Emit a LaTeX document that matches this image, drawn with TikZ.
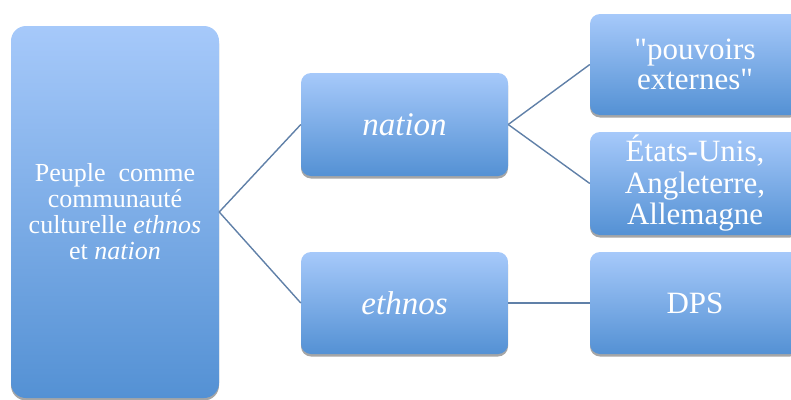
\documentclass[tikz,border=0pt]{standalone}
\usepackage{fontspec}
\setmainfont{Liberation Serif}[Ligatures=TeXOff]
\usetikzlibrary{shadows}
\definecolor{boxtop}{RGB}{166,201,250}
\definecolor{boxbot}{RGB}{84,145,212}
\definecolor{linkc}{RGB}{96,128,168}
\begin{document}
\begin{tikzpicture}[x=1pt,y=-1pt,
  boxstyle/.style={draw=none, rounded corners=10pt, top color=boxtop, bottom color=boxbot,
    drop shadow={shadow xshift=0pt, shadow yshift=-2.5pt, fill=black, opacity=0.35},
    text=white, align=center, inner sep=0pt},
  link/.style={draw=linkc, line width=1.4pt}]
\useasboundingbox (0,0) rectangle (791,399);
\begin{scope}
\clip (0,0) rectangle (791,399);
\node[boxstyle, rounded corners=15pt, minimum width=208pt, minimum height=372pt, font=\fontsize{26}{26}\selectfont] (root) at (115,212)
  {Peuple\ \ comme\\ communauté\\ culturelle \textit{ethnos}\\ et \textit{nation}};
\node[boxstyle, minimum width=207pt, minimum height=103pt, font=\fontsize{33}{34}\selectfont] (nation) at (404.5,124.5) {\textit{nation}};
\node[boxstyle, minimum width=207pt, minimum height=102pt, font=\fontsize{33}{34}\selectfont] (ethnos) at (404.5,303) {\textit{ethnos}};
\node[boxstyle, minimum width=210pt, minimum height=101pt, font=\fontsize{31}{30.5}\selectfont] (pouv) at (695,64.5) {"pouvoirs\\ externes"};
\node[boxstyle, minimum width=210pt, minimum height=103pt, font=\fontsize{31}{31.5}\selectfont] (etats) at (695,183.5) {États-Unis,\\ Angleterre,\\ Allemagne};
\node[boxstyle, minimum width=210pt, minimum height=102pt, font=\fontsize{31}{34}\selectfont] (dps) at (695,303) {DPS};
\end{scope}
\draw[link] (root.east) -- (nation.west);
\draw[link] (root.east) -- (ethnos.west);
\draw[link] (nation.east) -- (pouv.west);
\draw[link] (nation.east) -- (etats.west);
\draw[link] (ethnos.east) -- (dps.west);
\end{tikzpicture}
\end{document}
